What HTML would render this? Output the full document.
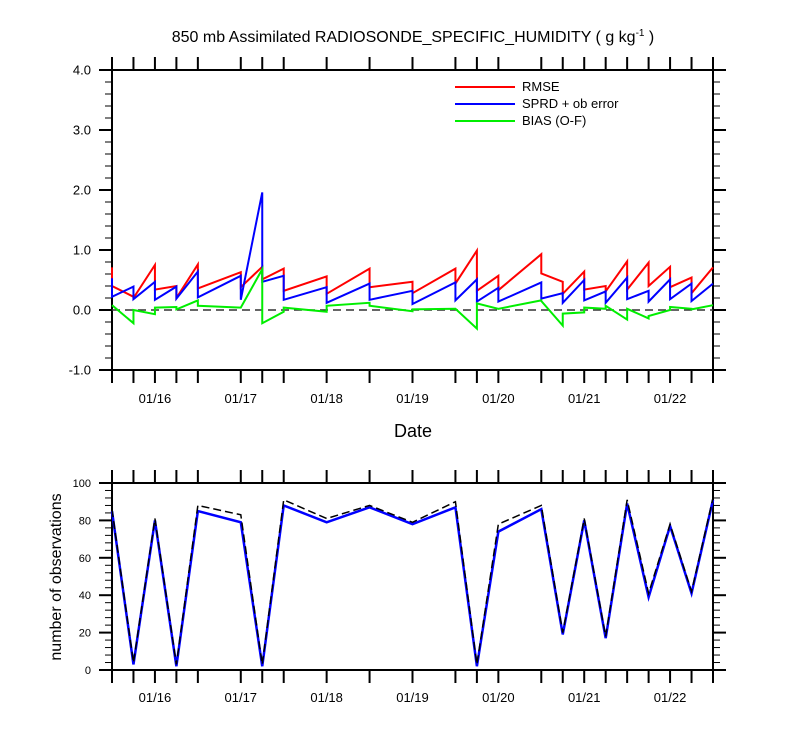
<!DOCTYPE html>
<html><head><meta charset="utf-8"><style>
body{margin:0;background:#fff}
svg{display:block;font-family:"Liberation Sans",sans-serif}
</style></head><body>
<svg id="c" width="800" height="750" viewBox="0 0 800 750"></svg>
<script>
const hours=[0,6,12,18,24,36,42,48,60,72,84,96,102,108,120,126,132,138,144,150,156,162,168];
const rmsePre=[0.71,0.22,0.75,0.40,0.76,0.63,0.72,0.69,0.56,0.69,0.47,0.69,0.99,0.57,0.93,0.47,0.64,0.40,0.81,0.79,0.72,0.54,0.71];
const rmsePost=[0.40,0.20,0.34,0.20,0.36,0.38,0.51,0.32,0.27,0.38,0.28,0.44,0.32,0.33,0.61,0.27,0.34,0.31,0.34,0.40,0.38,0.28,0.71];
const sprdPre=[0.53,0.39,0.47,0.39,0.64,0.57,1.96,0.57,0.38,0.44,0.32,0.46,0.51,0.37,0.46,0.28,0.50,0.31,0.54,0.32,0.51,0.44,0.44];
const sprdPost=[0.22,0.18,0.17,0.19,0.21,0.17,0.47,0.17,0.12,0.17,0.10,0.16,0.14,0.14,0.19,0.12,0.16,0.12,0.18,0.14,0.18,0.15,0.44];
const biasPre=[0.08,-0.22,-0.07,0.05,0.16,0.04,0.68,-0.03,-0.03,0.12,-0.02,0.02,-0.31,0.02,0.16,-0.26,-0.04,0.02,-0.16,-0.14,0.00,0.02,0.08];
const biasPost=[0.08,0.00,0.04,0.01,0.07,0.04,-0.22,0.04,0.07,0.07,0.01,0.02,0.11,0.02,0.15,-0.06,0.04,0.07,0.02,-0.10,0.05,0.01,0.08];
const nUsed=[85,3,80,2,85,79,2,88,79,87,78,87,2,74,86,19,80,17,89,39,77,41,91];
const nPoss=[86,4,81,3,88,83,3,91,81,88,79,90,3,78,88,20,81,18,91,41,78,42,92];
const dayLabels=["01/16","01/17","01/18","01/19","01/20","01/21","01/22"];
const topTicks=[-1,0,1,2,3,4];
const botTicks=[0,20,40,60,80,100];

const S=document.getElementById('c');const NS='http://www.w3.org/2000/svg';
function el(t,a,txt){const e=document.createElementNS(NS,t);for(const k in a)e.setAttribute(k,a[k]);if(txt!==undefined)e.textContent=txt;S.appendChild(e);return e;}
const X0=112,X1=713;
const x=h=>X0+(X1-X0)*h/168;
const yT=v=>70+(4-v)*60;
const yB=v=>670-(670-483)*v/100;

function frame(top,bot,name){
  const r=el('rect',{x:X0,y:top,width:X1-X0,height:bot-top,fill:'none',stroke:'#000','stroke-width':2});
  
  hours.forEach(h=>{
    const t1=el('line',{x1:x(h),x2:x(h),y1:top,y2:top-13,stroke:'#000','stroke-width':2});
    
    const t2=el('line',{x1:x(h),x2:x(h),y1:bot,y2:bot+13,stroke:'#000','stroke-width':2});
    
  });
}
function yticks(vals,minStep,fy,lo,hi,fs,lx){
  for(let v=lo;v<=hi+1e-9;v+=minStep){
    const major=vals.some(m=>Math.abs(m-v)<1e-6);const L=major?13:7;
    const a=el('line',{x1:X0,x2:X0-L,y1:fy(v),y2:fy(v),stroke:'#000','stroke-width':major?2:1});
    
    const b=el('line',{x1:X1,x2:X1+L,y1:fy(v),y2:fy(v),stroke:'#000','stroke-width':major?2:1});
    
  }
  vals.forEach(v=>{
    const t=el('text',{x:lx,y:fy(v)+fs*0.36,'font-size':fs,'text-anchor':'end'},fs>12?v.toFixed(1):String(v));
    
  });
}
function xlabels(yy){
  dayLabels.forEach((d,i)=>{
    const t=el('text',{x:x(12+24*i),y:yy,'font-size':13,'text-anchor':'middle'},d);
    
  });
}
function saw(pre,post,color,name){
  let d='';
  hours.forEach((h,i)=>{d+=(i?'L':'M')+x(h)+' '+yT(pre[i])+' L'+x(h)+' '+yT(post[i])+' ';});
  const p=el('path',{d,fill:'none',stroke:color,'stroke-width':2,'stroke-linejoin':'miter'});
  
}
// title
const ti=el('text',{x:413,y:42,'font-size':16,'text-anchor':'middle'});

ti.innerHTML='850 mb Assimilated RADIOSONDE_SPECIFIC_HUMIDITY ( g kg<tspan dy="-6" font-size="10">-1</tspan><tspan dy="6"> )</tspan>';

// top panel
frame(70,370,'top-plot-frame');
yticks(topTicks,0.2,yT,-1,4,13,91);
xlabels(403);
const z=el('line',{x1:X0,x2:X1,y1:yT(0),y2:yT(0),stroke:'#333','stroke-width':1.5,'stroke-dasharray':'8,5'});

saw(rmsePre,rmsePost,'#ff0000','rmse-line');
saw(sprdPre,sprdPost,'#0000ff','sprd-line');
saw(biasPre,biasPost,'#00ee00','bias-line');
const dt=el('text',{x:413,y:437,'font-size':18,'text-anchor':'middle'},'Date');

[['RMSE','#ff0000',87],['SPRD + ob error','#0000ff',104],['BIAS (O-F)','#00ee00',121]].forEach(([t,c,yy])=>{
  const l=el('line',{x1:455,x2:515,y1:yy,y2:yy,stroke:c,'stroke-width':2});
  
  const tx=el('text',{x:522,y:yy+4,'font-size':13},t);
  
});

// bottom panel
frame(483,670,'bottom-plot-frame');
yticks(botTicks,4,yB,0,100,11,91);
xlabels(702);
const yt=el('text',{x:0,y:0,'font-size':16,'text-anchor':'middle',transform:'translate(61,577) rotate(-90)'},'number of observations');

function line(vals,attrs,name){
  const d=hours.map((h,i)=>(i?'L':'M')+x(h)+' '+yB(vals[i])).join(' ');
  const p=el('path',Object.assign({d,fill:'none'},attrs));
  
}
line(nUsed,{stroke:'#0000ff','stroke-width':2.5},'obs-used-line');
line(nPoss,{stroke:'#000','stroke-width':1.5,'stroke-dasharray':'8,4'},'obs-possible-line');
</script>
</body></html>
